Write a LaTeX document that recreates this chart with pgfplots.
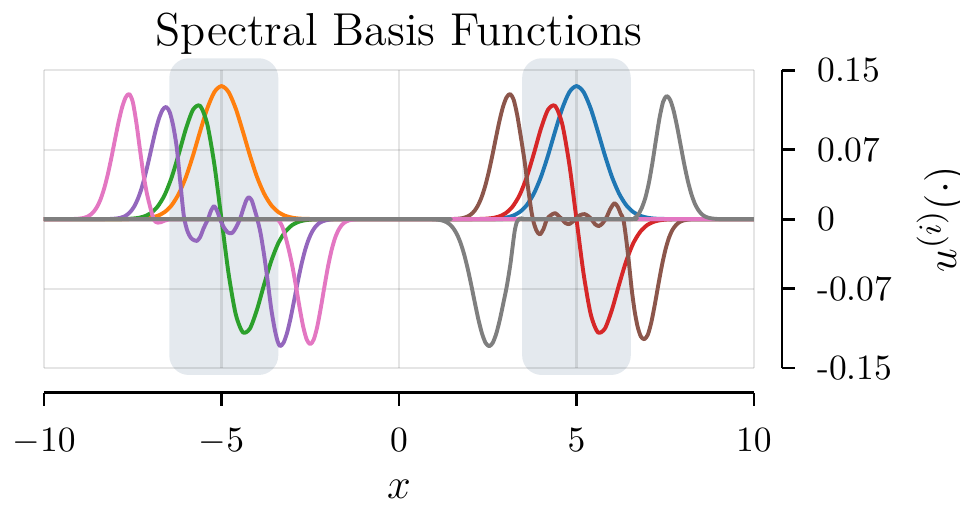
\documentclass[border=0pt]{standalone}
\usepackage{pgfplots}
\pgfplotsset{compat=1.18}
\definecolor{tabblue}{HTML}{1F77B4}
\definecolor{taborange}{HTML}{FF7F0E}
\definecolor{tabgreen}{HTML}{2CA02C}
\definecolor{tabred}{HTML}{D62728}
\definecolor{tabpurple}{HTML}{9467BD}
\definecolor{tabbrown}{HTML}{8C564B}
\definecolor{tabpink}{HTML}{E377C2}
\definecolor{tabgray}{HTML}{7F7F7F}
\definecolor{bandcol}{HTML}{E4E9EE}

\begin{document}
\begin{tikzpicture}
\begin{axis}[
  set layers,
  at={(0pt,0pt)}, anchor=south west,
  scale only axis, width=200pt, height=83.9pt,
  xmin=-10, xmax=10, ymin=-0.15, ymax=0.15,
  axis line style={draw=none},
  xtick={-10,-5,0,5,10}, ytick={-0.15,-0.07,0,0.07,0.15},
  xticklabels={}, yticklabels={},
  tick style={draw=none},
  grid=major,
  grid style={black, opacity=0.1, line width=0.6pt},
  clip=false,
  title={Spectral Basis Functions},
  every axis title shift=0pt,
  title style={font=\fontsize{13}{15}\selectfont, at={(0.5,1)}, anchor=base, yshift=7pt},
  every axis plot/.append style={line width=1.1pt, smooth, tension=0.45, line join=round},
]
\begin{pgfonlayer}{axis background}
\fill[bandcol, rounded corners=5.5pt] (axis cs:-6.47,0.162) rectangle (axis cs:-3.40,-0.157);
\fill[bandcol, rounded corners=5.5pt] (axis cs:3.47,0.162) rectangle (axis cs:6.53,-0.157);
\end{pgfonlayer}

% blue
\addplot[tabblue] coordinates {
(-10,0) (2.2,0) (2.4,0.0001) (2.6,0.0002) (2.8,0.0005) (3.0,0.0014) (3.2,0.0033)
(3.4,0.0071) (3.6,0.0141) (3.8,0.0257) (4.0,0.0425) (4.2,0.0643) (4.4,0.0886)
(4.6,0.1115) (4.8,0.1280) (5.0,0.1340) (5.2,0.1280) (5.4,0.1115) (5.6,0.0886)
(5.8,0.0643) (6.0,0.0425) (6.2,0.0257) (6.4,0.0141) (6.6,0.0071) (6.8,0.0033)
(7.0,0.0014) (7.2,0.0005) (7.4,0.0002) (7.6,0.0001) (7.8,0) (10,0)
};
% orange
\addplot[taborange] coordinates {
(-10,0) (-7.8,0) (-7.6,0.0001) (-7.4,0.0002) (-7.2,0.0005) (-7.0,0.0014) (-6.8,0.0033)
(-6.6,0.0071) (-6.4,0.0141) (-6.2,0.0257) (-6.0,0.0425) (-5.8,0.0643) (-5.6,0.0886)
(-5.4,0.1115) (-5.2,0.1280) (-5.0,0.1340) (-4.8,0.1280) (-4.6,0.1115) (-4.4,0.0886)
(-4.2,0.0643) (-4.0,0.0425) (-3.8,0.0257) (-3.6,0.0141) (-3.4,0.0071) (-3.2,0.0033)
(-3.0,0.0014) (-2.8,0.0005) (-2.6,0.0002) (-2.4,0.0001) (-2.2,0) (10,0)
};
% green
\addplot[tabgreen] coordinates {
(-10,0) (-8.0,0) (-7.8,0.0001) (-7.6,0.0003) (-7.4,0.0009) (-7.2,0.0024) (-7.0,0.0058)
(-6.8,0.0126) (-6.6,0.0243) (-6.4,0.0424) (-6.2,0.0660) (-6.0,0.0912) (-5.8,0.1103)
(-5.6,0.1140) (-5.4,0.0956) (-5.2,0.0549) (-5.0,0) (-4.8,-0.0549) (-4.6,-0.0956)
(-4.4,-0.1140) (-4.2,-0.1103) (-4.0,-0.0912) (-3.8,-0.0660) (-3.6,-0.0424)
(-3.4,-0.0243) (-3.2,-0.0126) (-3.0,-0.0058) (-2.8,-0.0024) (-2.6,-0.0009)
(-2.4,-0.0003) (-2.2,-0.0001) (-2.0,0) (10,0)
};
% red
\addplot[tabred] coordinates {
(-10,0) (2.0,0) (2.2,0.0001) (2.4,0.0003) (2.6,0.0009) (2.8,0.0024) (3.0,0.0058)
(3.2,0.0126) (3.4,0.0243) (3.6,0.0424) (3.8,0.0660) (4.0,0.0912) (4.2,0.1103)
(4.4,0.1140) (4.6,0.0956) (4.8,0.0549) (5.0,0) (5.2,-0.0549) (5.4,-0.0956)
(5.6,-0.1140) (5.8,-0.1103) (6.0,-0.0912) (6.2,-0.0660) (6.4,-0.0424) (6.6,-0.0243)
(6.8,-0.0126) (7.0,-0.0058) (7.2,-0.0024) (7.4,-0.0009) (7.6,-0.0003) (7.8,-0.0001)
(8.0,0) (10,0)
};
% purple
\addplot[tabpurple] coordinates {
(-10,0) (-8.46,0) (-8.26,0.0001) (-8.16,0.0001) (-8.06,0.0003) (-7.96,0.0006)
(-7.86,0.0012) (-7.76,0.0023) (-7.66,0.0043) (-7.56,0.0076) (-7.46,0.0126)
(-7.36,0.0200) (-7.26,0.0300) (-7.16,0.0427) (-7.06,0.0575) (-6.96,0.0733)
(-6.86,0.0886) (-6.76,0.1014) (-6.66,0.1100) (-6.56,0.1130) (-6.46,0.1079)
(-6.36,0.0940) (-6.26,0.072) (-6.16,0.037) (-6.06,0.003) (-5.96,-0.012)
(-5.86,-0.019) (-5.76,-0.0215) (-5.69,-0.022) (-5.60,-0.018) (-5.50,-0.009)
(-5.38,0.0) (-5.30,0.008) (-5.21,0.013) (-5.12,0.008) (-5.04,0.0) (-4.94,-0.008)
(-4.82,-0.0135) (-4.70,-0.014) (-4.60,-0.009) (-4.48,0.0) (-4.38,0.011)
(-4.30,0.019) (-4.23,0.022) (-4.15,0.019) (-4.07,0.010) (-3.99,0.0) (-3.90,-0.014)
(-3.80,-0.036) (-3.70,-0.062) (-3.60,-0.090) (-3.50,-0.111) (-3.42,-0.123)
(-3.35,-0.128) (-3.25,-0.1244) (-3.15,-0.1143) (-3.05,-0.0992) (-2.95,-0.0813)
(-2.85,-0.0630) (-2.75,-0.0461) (-2.65,-0.0319) (-2.55,-0.0209) (-2.45,-0.0129)
(-2.35,-0.0075) (-2.25,-0.0041) (-2.15,-0.0022) (-2.05,-0.0011) (-1.95,-0.0005)
(-1.85,-0.0002) (-1.70,0) (10,0)
};
% brown
\addplot[tabbrown] coordinates {
(-10,0) (1.40,0) (1.53,0.0001) (1.63,0.0003) (1.73,0.0006) (1.83,0.0013) (1.93,0.0026)
(2.03,0.0048) (2.13,0.0084) (2.23,0.0141) (2.33,0.0223) (2.43,0.0335) (2.53,0.0476)
(2.63,0.0641) (2.73,0.0817) (2.83,0.0988) (2.93,0.1131) (3.03,0.1226) (3.13,0.1260)
(3.23,0.1203) (3.33,0.1049) (3.43,0.0834) (3.53,0.0604) (3.63,0.033) (3.73,0.008)
(3.80,-0.004) (3.88,-0.012) (3.97,-0.0154) (4.07,-0.010) (4.17,0.0) (4.28,0.004)
(4.40,0.006) (4.50,0.003) (4.59,0.0) (4.69,-0.004) (4.79,-0.005) (4.88,-0.003)
(4.98,0.0) (5.10,0.004) (5.23,0.005) (5.33,0.003) (5.42,0.0) (5.52,-0.005)
(5.63,-0.007) (5.74,-0.004) (5.85,0.002) (5.95,0.010) (6.07,0.016) (6.17,0.012)
(6.25,0.005) (6.32,0.0) (6.40,-0.020) (6.48,-0.045) (6.56,-0.072) (6.64,-0.093)
(6.72,-0.108) (6.81,-0.118) (6.91,-0.121) (7.01,-0.1164) (7.11,-0.1037)
(7.21,-0.0855) (7.31,-0.0653) (7.41,-0.0461) (7.51,-0.0302) (7.61,-0.0183)
(7.71,-0.0105) (7.81,-0.0057) (7.91,-0.0029) (8.01,-0.0014) (8.11,-0.0006)
(8.21,-0.0002) (8.35,0) (10,0)
};
% pink
\addplot[tabpink] coordinates {
(-10,0) (-9.3,0) (-9.2,0.0001) (-9.1,0.0002) (-9.0,0.0005) (-8.9,0.0010) (-8.8,0.0021)
(-8.7,0.0041) (-8.6,0.0074) (-8.5,0.0127) (-8.4,0.0205) (-8.3,0.0314) (-8.2,0.0454)
(-8.1,0.0620) (-8.0,0.0801) (-7.9,0.0976) (-7.8,0.1125) (-7.7,0.1225) (-7.6,0.1260)
(-7.5,0.1182) (-7.4,0.0976) (-7.3,0.0710) (-7.2,0.0454) (-7.1,0.0256) (-7.0,0.011)
(-6.9,-0.001) (-6.8,-0.0035) (-6.7,-0.003) (-6.6,-0.0015) (-6.5,-0.0005) (-6.4,0)
(-3.5,0) (-3.4,-0.001) (-3.3,-0.0065) (-3.2,-0.0175) (-3.1,-0.0314) (-3.0,-0.0480)
(-2.9,-0.0680) (-2.8,-0.0890) (-2.7,-0.1080) (-2.6,-0.1212) (-2.5,-0.1260)
(-2.4,-0.1212) (-2.3,-0.1080) (-2.2,-0.0890) (-2.1,-0.0680) (-2.0,-0.0480)
(-1.9,-0.0314) (-1.8,-0.0190) (-1.7,-0.0107) (-1.6,-0.0055) (-1.5,-0.0027)
(-1.4,-0.0012) (-1.3,-0.0005) (-1.2,-0.0002) (-1.1,0) (10,0)
};
% gray
\addplot[tabgray] coordinates {
(-10,0) (0.84,0) (0.94,-0.0002) (1.04,-0.0004) (1.14,-0.0008) (1.24,-0.0016)
(1.34,-0.0031) (1.44,-0.0056) (1.54,-0.0097) (1.64,-0.0158) (1.74,-0.0245)
(1.84,-0.0361) (1.94,-0.0505) (2.04,-0.0671) (2.14,-0.0847) (2.24,-0.1015)
(2.34,-0.1154) (2.44,-0.1247) (2.54,-0.1280) (2.64,-0.1247) (2.74,-0.1154)
(2.84,-0.1015) (2.94,-0.0847) (3.04,-0.0671) (3.14,-0.045) (3.20,-0.028)
(3.26,-0.012) (3.32,-0.003) (3.40,0.0005) (3.50,0.0005) (3.60,0) (6.50,0)
(6.64,0.0012) (6.74,0.0045) (6.84,0.0113) (6.94,0.0214) (7.04,0.0366) (7.14,0.0568)
(7.24,0.0799) (7.34,0.1020) (7.44,0.1181) (7.54,0.1240) (7.64,0.1200) (7.74,0.1087)
(7.84,0.0922) (7.94,0.0733) (8.04,0.0545) (8.14,0.0380) (8.24,0.0248) (8.34,0.0151)
(8.44,0.0087) (8.54,0.0046) (8.64,0.0023) (8.74,0.0011) (8.84,0.0005) (8.94,0.0002)
(9.10,0) (10,0)
};
\end{axis}

% offset bottom spine
\begin{axis}[
  at={(0pt,-7pt)}, anchor=south west,
  scale only axis, width=200pt, height=83.9pt,
  xmin=-10, xmax=10, ymin=0, ymax=1,
  axis x line=bottom, hide y axis,
  axis line style={-, line width=0.8pt},
  xtick={-10,-5,0,5,10},
  tick align=outside, major tick length=3.6pt,
  tick style={line width=0.8pt, black},
  ticklabel style={font=\fontsize{10}{12}\selectfont},
  xticklabel style={yshift=-2.8pt},
  xlabel={$x$},
  xlabel style={font=\fontsize{13}{15}\selectfont, at={(axis description cs:0.5,0)}, anchor=center, yshift=-27.3pt},
]
\end{axis}

% offset right spine
\begin{axis}[
  at={(7.9pt,0pt)}, anchor=south west,
  scale only axis, width=200pt, height=83.9pt,
  xmin=0, xmax=1, ymin=-0.15, ymax=0.15,
  axis y line=right, hide x axis,
  axis line style={-, line width=0.8pt},
  ytick={-0.15,-0.07,0,0.07,0.15},
  yticklabels={-0.15,-0.07,0,0.07,0.15},
  tick align=outside, major tick length=3.6pt,
  tick style={line width=0.8pt, black},
  yticklabel style={anchor=west, xshift=2.8pt, font=\fontsize{10}{12}\selectfont},
  ylabel={$u^{(i)}(\cdot)$}, ylabel style={font=\fontsize{13}{15}\selectfont},
]
\end{axis}

\pgfresetboundingbox
\path (-12.39pt,-38.59pt) rectangle (258.04pt,103.67pt);
\end{tikzpicture}
\end{document}
